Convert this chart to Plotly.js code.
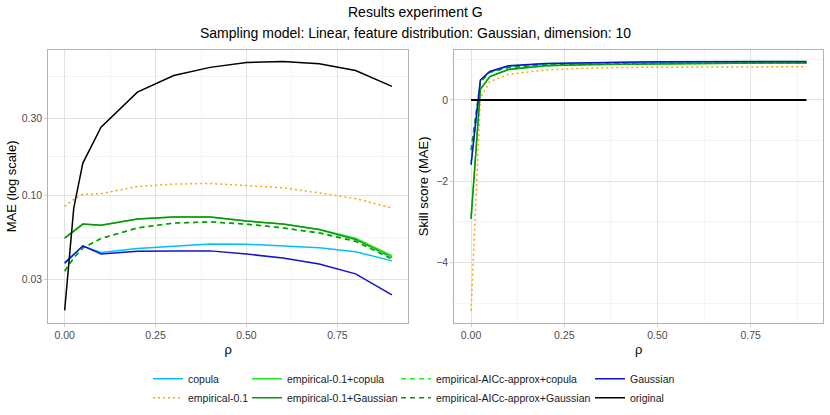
<!DOCTYPE html>
<html>
<head>
<meta charset="utf-8">
<script src="https://cdn.plot.ly/plotly-3.0.1.min.js"></script>
<style>
  body { margin: 0; background: #fff; }
  #chart { width: 830px; height: 415px; }
</style>
</head>
<body>
<div id="chart"></div>
<script>
var rho = [0, 0.025, 0.05, 0.1, 0.2, 0.3, 0.4, 0.5, 0.6, 0.7, 0.8, 0.9];

// MAE per method (left panel, log scale)
var mae_copula      = [0.0375, 0.0428, 0.0482, 0.0440, 0.0465, 0.0480, 0.0497, 0.0495, 0.0484, 0.0470, 0.0445, 0.0390];
var mae_emp01       = [0.085, 0.094, 0.101, 0.102, 0.113, 0.117, 0.118, 0.115, 0.111, 0.103, 0.095, 0.083];
var mae_emp01_cop   = [0.054, 0.060, 0.066, 0.065, 0.071, 0.073, 0.073, 0.069, 0.066, 0.061, 0.054, 0.042];
var mae_emp01_gauss = [0.054, 0.060, 0.066, 0.065, 0.071, 0.073, 0.073, 0.069, 0.066, 0.061, 0.053, 0.041];
var mae_aicc_cop    = [0.0338, 0.0408, 0.0470, 0.0538, 0.0625, 0.0670, 0.0680, 0.0660, 0.0626, 0.0585, 0.0520, 0.0410];
var mae_aicc_gauss  = [0.0336, 0.0406, 0.0469, 0.0537, 0.0624, 0.0670, 0.0680, 0.0660, 0.0624, 0.0580, 0.0515, 0.0400];
var mae_gauss       = [0.0379, 0.0430, 0.0484, 0.0430, 0.0447, 0.0450, 0.0450, 0.0430, 0.0406, 0.0373, 0.0324, 0.0240];
var mae_original    = [0.0192, 0.083, 0.158, 0.264, 0.436, 0.553, 0.621, 0.667, 0.676, 0.654, 0.594, 0.473];

// skill score (right panel)
var ss_copula      = [-1.55, 0.48, 0.69, 0.83, 0.89, 0.91, 0.92, 0.93, 0.93, 0.93, 0.93, 0.93];
var ss_emp01       = [-5.19, 0.05, 0.45, 0.63, 0.74, 0.78, 0.80, 0.81, 0.81, 0.81, 0.81, 0.82];
var ss_emp01_cop   = [-2.90, 0.27, 0.58, 0.75, 0.84, 0.87, 0.88, 0.89, 0.90, 0.90, 0.91, 0.91];
var ss_emp01_gauss = [-2.93, 0.26, 0.57, 0.75, 0.84, 0.87, 0.88, 0.89, 0.90, 0.90, 0.91, 0.91];
var ss_aicc_cop    = [-1.25, 0.44, 0.68, 0.80, 0.86, 0.88, 0.89, 0.90, 0.91, 0.91, 0.91, 0.915];
var ss_aicc_gauss  = [-1.23, 0.45, 0.68, 0.80, 0.86, 0.88, 0.89, 0.90, 0.91, 0.91, 0.91, 0.915];
var ss_gauss       = [-1.60, 0.49, 0.70, 0.84, 0.90, 0.92, 0.93, 0.94, 0.94, 0.94, 0.945, 0.95];
var ss_original    = [0, 0, 0, 0, 0, 0, 0, 0, 0, 0, 0, 0];

var methods = ["copula", "empirical-0.1", "empirical-0.1+copula", "empirical-0.1+Gaussian",
               "empirical-AICc-approx+copula", "empirical-AICc-approx+Gaussian", "Gaussian", "original"];
var mae_all = [mae_copula, mae_emp01, mae_emp01_cop, mae_emp01_gauss, mae_aicc_cop, mae_aicc_gauss, mae_gauss, mae_original];
var ss_all = [ss_copula, ss_emp01, ss_emp01_cop, ss_emp01_gauss, ss_aicc_cop, ss_aicc_gauss, ss_gauss, ss_original];

var colors = ["#00BFFF", "#FFA500", "#22E622", "#0A960A", "#22E622", "#0A960A", "#1212C8", "#000000"];
var dashes = ["solid", "2px,3px", "solid", "solid", "5px,4px", "5px,4px", "solid", "solid"];
var legends = ["legend", "legend", "legend2", "legend2", "legend3", "legend3", "legend4", "legend4"];

var x_ticks = [0, 0.25, 0.5, 0.75];
var x_ticktext = ["0.00", "0.25", "0.50", "0.75"];
var x_minor = [0.125, 0.375, 0.625, 0.875];
var mae_ticks = [0.03, 0.1, 0.3];
var mae_ticktext = ["0.03", "0.10", "0.30"];
var mae_minor = [0.0548, 0.1732, 0.5477];
var ss_ticks = [-4, -2, 0];
var ss_minor = [-5, -3, -1, 1];

var data = [];
for (var ind = 0; ind < methods.length; ind++) {
    data.push({
        x: rho, y: mae_all[ind],
        mode: 'lines', type: 'scatter',
        name: methods[ind],
        legend: legends[ind],
        line: {color: colors[ind], width: 1.5, dash: dashes[ind]},
        xaxis: 'x', yaxis: 'y'
    });
}
for (var ind = 0; ind < methods.length; ind++) {
    data.push({
        x: rho, y: ss_all[ind],
        mode: 'lines', type: 'scatter',
        name: methods[ind],
        showlegend: false,
        line: {color: colors[ind], width: ind == 7 ? 2 : 1.5, dash: dashes[ind]},
        xaxis: 'x2', yaxis: 'y2'
    });
}

var tickfont = {family: 'Liberation Sans, Arial, sans-serif', size: 10.5, color: '#4D4D4D'};
var titlefont = {family: 'Liberation Sans, Arial, sans-serif', size: 13, color: '#000'};

function xaxis(dom) {
    return {
        domain: dom, range: [-0.045, 0.945],
        tickmode: 'array', tickvals: x_ticks, ticktext: x_ticktext,
        minor: {tickvals: x_minor, showgrid: true, gridcolor: '#EEEEEE', gridwidth: 0.6, ticks: ''},
        showgrid: true, gridcolor: '#E2E2E2', gridwidth: 1,
        zeroline: false, showline: true, mirror: true, linecolor: '#B3B3B3', linewidth: 1,
        ticks: 'outside', ticklen: 3, tickcolor: '#B3B3B3', tickwidth: 0.6,
        tickfont: tickfont, automargin: false,
        title: {text: 'ρ', font: titlefont, standoff: 4}
    };
}
// one legend per column, like the 2x4 ggplot legend grid
function legendbox(xpx) {
    return {
        x: xpx / 830, y: 0.122, xanchor: 'left', yanchor: 'top',
        orientation: 'v', bgcolor: 'rgba(0,0,0,0)', itemwidth: 30, tracegroupgap: 0,
        font: {family: 'Liberation Sans, Arial, sans-serif', size: 10.5, color: '#1A1A1A'}
    };
}

var layout = {
    width: 830, height: 415,
    margin: {l: 0, r: 0, t: 0, b: 0},
    paper_bgcolor: '#fff', plot_bgcolor: '#fff',
    font: {family: 'Liberation Sans, Arial, sans-serif'},
    xaxis: xaxis([48.3 / 830, 408.3 / 830]),
    xaxis2: Object.assign(xaxis([454.3 / 830, 823.3 / 830]), {anchor: 'y2'}),
    yaxis: {
        domain: [0.2224, 0.8795], type: 'log', range: [-1.793, -0.099],
        tickmode: 'array', tickvals: mae_ticks, ticktext: mae_ticktext,
        minor: {tickvals: mae_minor, showgrid: true, gridcolor: '#EEEEEE', gridwidth: 0.6, ticks: ''},
        showgrid: true, gridcolor: '#E2E2E2', gridwidth: 1,
        zeroline: false, showline: true, mirror: true, linecolor: '#B3B3B3', linewidth: 1,
        ticks: 'outside', ticklen: 3, tickcolor: '#B3B3B3', tickwidth: 0.6,
        tickfont: tickfont, automargin: false,
        title: {text: 'MAE (log scale)', font: titlefont, standoff: 2}
    },
    yaxis2: {
        domain: [0.2224, 0.8795], anchor: 'x2', range: [-5.485, 1.23],
        tickmode: 'array', tickvals: ss_ticks,
        minor: {tickvals: ss_minor, showgrid: true, gridcolor: '#EEEEEE', gridwidth: 0.6, ticks: ''},
        showgrid: true, gridcolor: '#E2E2E2', gridwidth: 1,
        zeroline: false, showline: true, mirror: true, linecolor: '#B3B3B3', linewidth: 1,
        ticks: 'outside', ticklen: 3, tickcolor: '#B3B3B3', tickwidth: 0.6,
        tickfont: tickfont, automargin: false,
        title: {text: 'Skill score (MAE)', font: titlefont, standoff: 4}
    },
    legend: legendbox(148),
    legend2: legendbox(247),
    legend3: legendbox(396),
    legend4: legendbox(590),
    annotations: [
        {text: 'Results experiment G', xref: 'paper', yref: 'paper', x: 0.5, y: 1 - 12 / 415,
         xanchor: 'center', yanchor: 'middle', showarrow: false,
         font: {family: 'Liberation Sans, Arial, sans-serif', size: 14, color: '#000'}},
        {text: 'Sampling model: Linear, feature distribution: Gaussian, dimension: 10', xref: 'paper', yref: 'paper',
         x: 0.5, y: 1 - 33 / 415, xanchor: 'center', yanchor: 'middle', showarrow: false,
         font: {family: 'Liberation Sans, Arial, sans-serif', size: 14, color: '#000'}}
    ]
};

Plotly.newPlot('chart', data, layout, {displayModeBar: false, staticPlot: true});
</script>
</body>
</html>
